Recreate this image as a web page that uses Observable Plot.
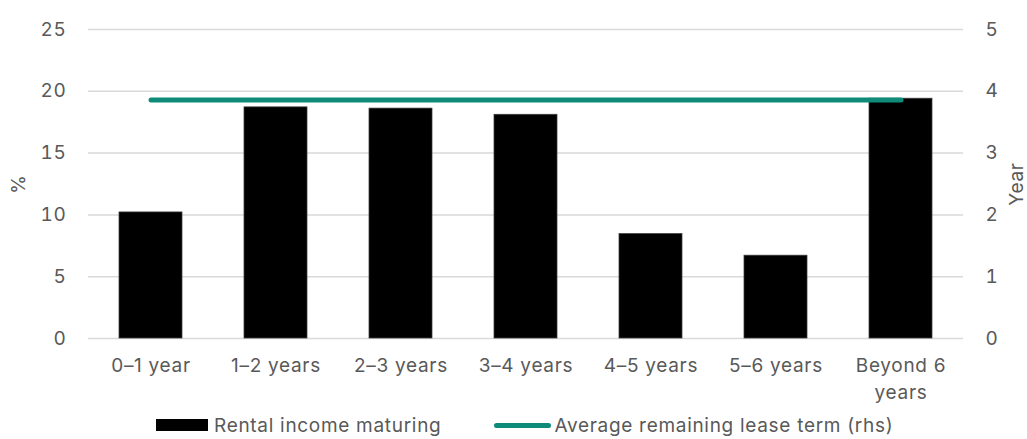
<!DOCTYPE html>
<html>
<head>
<meta charset="utf-8">
<script src="https://cdn.jsdelivr.net/npm/d3@7"></script>
<script src="https://cdn.jsdelivr.net/npm/@observablehq/plot@0.6"></script>
<style>
  html, body { margin: 0; padding: 0; background: #fff; overflow: hidden; }
  #chart { width: 1027px; }
  #chart svg text { letter-spacing: 0.7px; }
  .legend {
    display: flex; align-items: center; height: 24px; padding-top: 1px;
    margin-left: 156px; font-family: "Inter", sans-serif;
    font-size: 19px; letter-spacing: 0.7px; color: #595959; white-space: nowrap;
  }
  .legend .item { display: flex; align-items: center; }
  .legend .bar { width: 52px; height: 12px; background: #000; margin-right: 6px; }
  .legend .line { width: 57px; height: 5px; border-radius: 3px; background: #0f8b79; margin-right: 3px; }
  .legend .item + .item { margin-left: 53px; }
</style>
</head>
<body>
<div id="chart"></div>
<div class="legend">
  <div class="item"><span class="bar"></span><span>Rental income maturing</span></div>
  <div class="item"><span class="line"></span><span>Average remaining lease term (rhs)</span></div>
</div>
<script>
// Lease expiry buckets
const categories = ["0–1 year", "1–2 years", "2–3 years", "3–4 years", "4–5 years", "5–6 years", "Beyond 6 years"];
const categoryLabels = ["0–1 year", "1–2 years", "2–3 years", "3–4 years", "4–5 years", "5–6 years", "Beyond 6\nyears"];
// Share of rental income maturing in each bucket (%)
const rentalIncome = [10.2, 18.7, 18.6, 18.1, 8.45, 6.7, 19.4];
// Average remaining lease term (years, right-hand axis)
const leaseTerm = [3.86, 3.86, 3.86, 3.86, 3.86, 3.86, 3.86];
// Axis ticks
const leftTicks = [0, 5, 10, 15, 20, 25];
const rightTicks = [0, 1, 2, 3, 4, 5];

// Right axis (0–5) is drawn on the left scale (0–25)
const ratio = 25 / 5;
const labelOf = new Map(categories.map((c, i) => [c, categoryLabels[i]]));

const rows = categories.map((c, i) => ({
  category: c,
  income: rentalIncome[i],
  lease: leaseTerm[i]
}));

const textColor = "#595959";

const chart = Plot.plot({
  width: 1027,
  height: 412,
  marginLeft: 88,
  marginRight: 64,
  marginTop: 29,
  marginBottom: 74,
  style: { fontFamily: "Inter, sans-serif", fontSize: "19px", color: textColor, background: "#fff" },
  x: { type: "band", domain: categories, paddingInner: 0.5, paddingOuter: 0.25 },
  y: { domain: [0, 25] },
  marks: [
    Plot.gridY(leftTicks, { stroke: "#d9d9d9", strokeOpacity: 1, strokeWidth: 1.5 }),
    Plot.axisY(leftTicks, { anchor: "left", tickSize: 0, tickPadding: 22, label: null }),
    Plot.axisY(rightTicks.map(d => d * ratio), {
      anchor: "right", tickSize: 0, tickPadding: 22, label: null,
      tickFormat: d => String(d / ratio), textAnchor: "start"
    }),
    Plot.axisX({
      anchor: "bottom", tickSize: 0, tickPadding: 15, label: null,
      tickFormat: d => labelOf.get(d), lineHeight: 1.4
    }),
    Plot.barY(rows, { x: "category", y: "income", fill: "#000", stroke: "#3c3c3c", strokeWidth: 0.75 }),
    Plot.lineY(rows, {
      x: "category", y: d => d.lease * ratio,
      stroke: "#0f8b79", strokeWidth: 5, strokeLinecap: "round"
    }),
    Plot.text(["%"], { frameAnchor: "left", dx: -70, rotate: -90, textAnchor: "middle", fill: textColor }),
    Plot.text(["Year"], { frameAnchor: "right", dx: 53, rotate: -90, textAnchor: "middle", fill: textColor })
  ]
});

document.getElementById("chart").appendChild(chart);
</script>
</body>
</html>
